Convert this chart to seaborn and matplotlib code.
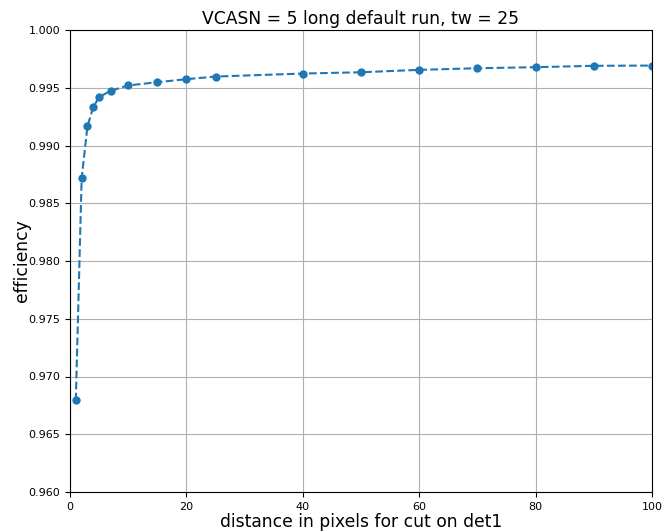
import numpy as np
import pandas as pd
import matplotlib
matplotlib.use("Agg")
import matplotlib.pyplot as plt
import seaborn as sns

# 데이터
distance = [1, 2, 3, 4, 5, 7, 10, 15, 20, 25, 40, 50, 60, 70, 80, 90, 100]
efficiency = [0.96793, 0.98716, 0.99166, 0.99333, 0.99419, 0.99474, 0.99520,
              0.99548, 0.99574, 0.99597, 0.99623, 0.99634, 0.99655, 0.99669,
              0.99678, 0.99690, 0.99692]

df = pd.DataFrame({"distance": distance, "efficiency": efficiency})

sns.set_style("ticks", {"text.color": "black", "axes.labelcolor": "black",
                        "xtick.color": "black", "ytick.color": "black"})
plt.rcParams["font.family"] = ["DejaVu Sans"]

fig = plt.figure(figsize=(6.65, 5.31), dpi=100)
ax = fig.add_axes([70 / 665, 1 - 492 / 531, 582 / 665, 462 / 531])

sns.lineplot(data=df, x="distance", y="efficiency", ax=ax,
             color="#1f77b4", linestyle="--", marker="o",
             markersize=6, markeredgewidth=0, linewidth=1.5)

ax.set_xlim(0, 100)
ax.set_ylim(0.960, 1.000)
ax.set_yticks(np.arange(0.960, 1.0001, 0.005))
ax.yaxis.set_major_formatter(matplotlib.ticker.FormatStrFormatter("%.3f"))
ax.grid(True, color="#b0b0b0", linewidth=0.8)
ax.tick_params(labelsize=8, length=3.5, width=0.8, color="black")
for s in ax.spines.values():
    s.set_color("black")
    s.set_linewidth(0.8)

ax.set_title("VCASN = 5 long default run, tw = 25", fontsize=12.3, pad=4)
ax.set_xlabel("distance in pixels for cut on det1", fontsize=12.3, labelpad=1)
ax.set_ylabel("efficiency", fontsize=12.3, labelpad=-2)

fig.savefig("out.png", dpi=100)
